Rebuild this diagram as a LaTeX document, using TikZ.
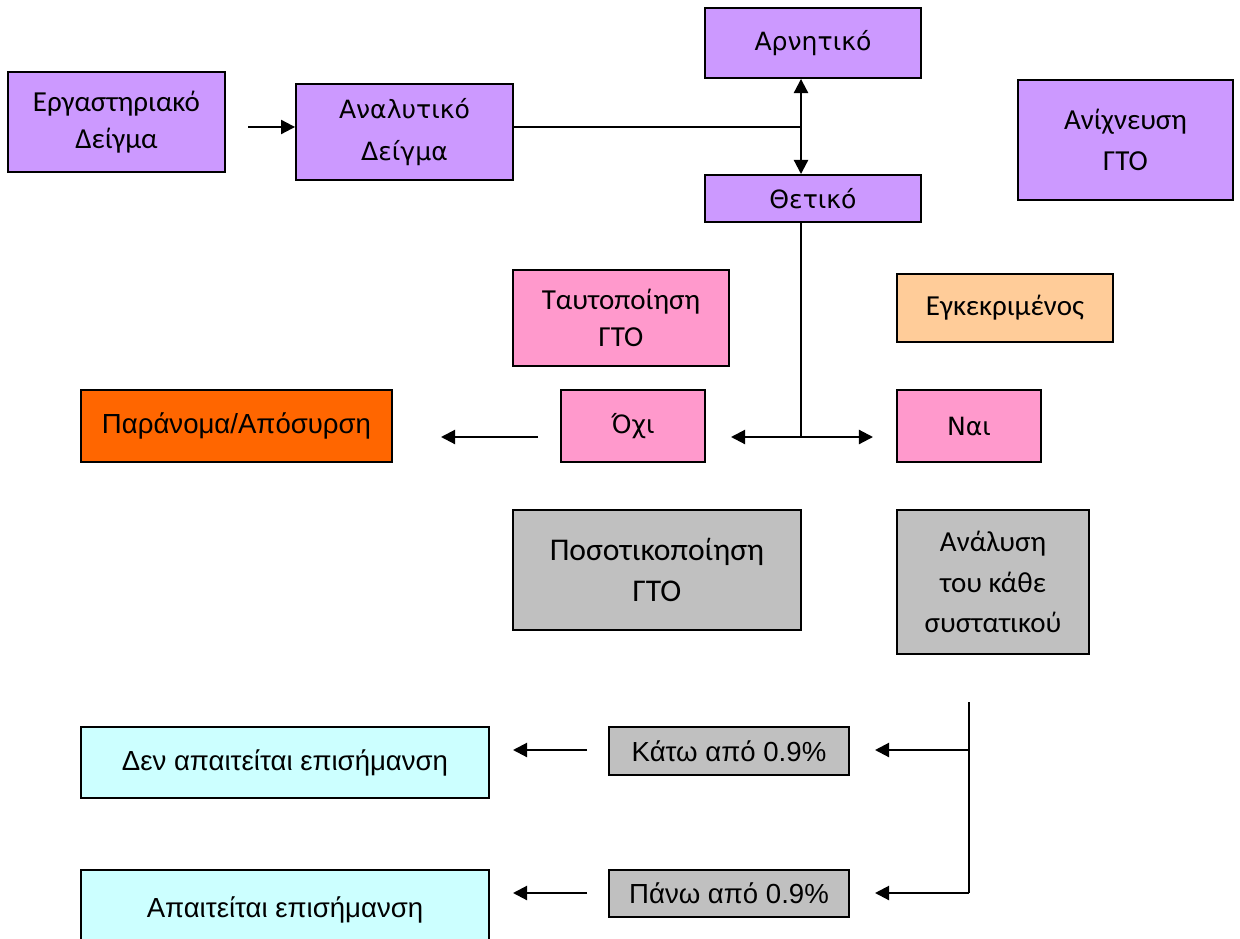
\documentclass[tikz,border=0pt]{standalone}
\usepackage{fontspec}
\setmainfont{Carlito}
\newfontfamily\dejavu{DejaVu Sans}
\newfontfamily\arial{Liberation Sans}
\usetikzlibrary{arrows.meta,positioning}
\definecolor{lilac}{HTML}{CC99FF}
\definecolor{rosa}{HTML}{FF99CC}
\definecolor{peach}{HTML}{FFCC99}
\definecolor{orng}{HTML}{FF6600}
\definecolor{grey}{HTML}{C0C0C0}
\definecolor{aqua}{HTML}{CCFFFF}

\begin{document}
\begin{tikzpicture}[x=0.02cm,y=-0.02cm,
  box/.style={draw,line width=1.1pt,align=center,inner sep=0pt},
  cal/.style={font=\fontsize{16.5}{21}\selectfont},
  calbig/.style={font=\fontsize{18}{23}\selectfont},
  dv/.style={font=\dejavu\fontsize{14.3}{24}\selectfont},
  ar/.style={font=\arial\fontsize{15.7}{20}\selectfont},
  arr/.style={line width=1.2pt,-{Triangle[length=8pt,width=8pt]}},
  dbl/.style={line width=1.2pt,{Triangle[length=8pt,width=8pt]}-{Triangle[length=8pt,width=8pt]}}]
  \useasboundingbox (0,0) rectangle (1240,939);

  % top row
  \node[box,cal,fill=lilac,minimum width=4.34cm,minimum height=2cm] (lab) at (116.5,122) {Εργαστηριακό\\Δείγμα};
  \node[box,dv,fill=lilac,minimum width=4.34cm,minimum height=1.92cm] (anal) at (404.5,132) {Αναλυτικό\\Δείγμα};
  \node[box,dv,fill=lilac,minimum width=4.32cm,minimum height=1.4cm] (neg) at (813,43) {Αρνητικό};
  \node[box,dv,fill=lilac,minimum width=4.32cm,minimum height=0.94cm] (pos) at (813,198.5) {Θετικό};
  \node[box,cal,fill=lilac,minimum width=4.3cm,minimum height=2.4cm,font=\fontsize{16.5}{23}\selectfont] (det) at (1125.5,140) {Ανίχνευση\\ΓΤΟ};

  % identification
  \node[box,cal,fill=rosa,minimum width=4.32cm,minimum height=1.92cm] (ident) at (621,318) {Ταυτοποίηση\\ΓΤΟ};
  \node[box,cal,fill=peach,minimum width=4.32cm,minimum height=1.36cm] (appr) at (1005,308) {Εγκεκριμένος};
  \node[box,ar,fill=orng,minimum width=6.22cm,minimum height=1.44cm] (illeg) at (236.5,426) {Παράνομα/Απόσυρση};
  \node[box,dv,fill=rosa,minimum width=2.88cm,minimum height=1.44cm] (no) at (633,426) {Όχι};
  \node[box,dv,fill=rosa,minimum width=2.88cm,minimum height=1.44cm] (yes) at (969,426) {Ναι};

  % quantification
  \node[box,calbig,fill=grey,minimum width=5.76cm,minimum height=2.4cm] (quant) at (657,570) {Ποσοτικοποίηση\\ΓΤΟ};
  \node[box,cal,fill=grey,minimum width=3.84cm,minimum height=2.88cm,font=\fontsize{16.5}{23}\selectfont] (comp) at (993,582) {Ανάλυση\\του κάθε\\συστατικού};
  \node[box,ar,fill=aqua,minimum width=8.16cm,minimum height=1.42cm] (nolab) at (285,762.5) {Δεν απαιτείται επισήμανση};
  \node[box,ar,fill=grey,minimum width=4.8cm,minimum height=0.96cm] (below) at (729,751) {Κάτω από 0.9\%};
  \node[box,ar,fill=aqua,minimum width=8.16cm,minimum height=1.6cm] (yeslab) at (285,910) {Απαιτείται επισήμανση};
  \node[box,ar,fill=grey,minimum width=4.8cm,minimum height=0.94cm] (above) at (729,893.5) {Πάνω από 0.9\%};

  % connectors
  \coordinate (in) at (248,127);
  \coordinate (trunk) at (801,127);
  \coordinate (split) at (801,437);
  \coordinate (noend) at (731,437);
  \coordinate (yesend) at (873,437);
  \coordinate (nostart) at (538,437);
  \coordinate (illend) at (441,437);
  \coordinate (rail) at (969,702);
  \coordinate (railA) at (969,750);
  \coordinate (railB) at (969,893);
  \coordinate (belowend) at (875,750);
  \coordinate (aboveend) at (875,893);
  \coordinate (lowstart) at (587,750);
  \coordinate (lowend) at (513,750);
  \coordinate (highstart) at (587,893);
  \coordinate (highend) at (513,893);

  \draw[arr] (in) -- (in -| anal.west);
  \draw[line width=0.9pt] (anal.east |- trunk) -- (trunk);
  \draw[dbl] (trunk |- neg.south) -- (trunk |- pos.north);
  \draw[line width=0.9pt] (trunk |- pos.south) -- (split);
  \draw[arr] (split) -- (noend);
  \draw[arr] (split) -- (yesend);
  \draw[arr] (nostart) -- (illend);
  \draw[line width=1.2pt] (rail) -- (railB);
  \draw[arr] (railA) -- (belowend);
  \draw[arr] (railB) -- (aboveend);
  \draw[arr] (lowstart) -- (lowend);
  \draw[arr] (highstart) -- (highend);
\end{tikzpicture}
\end{document}
